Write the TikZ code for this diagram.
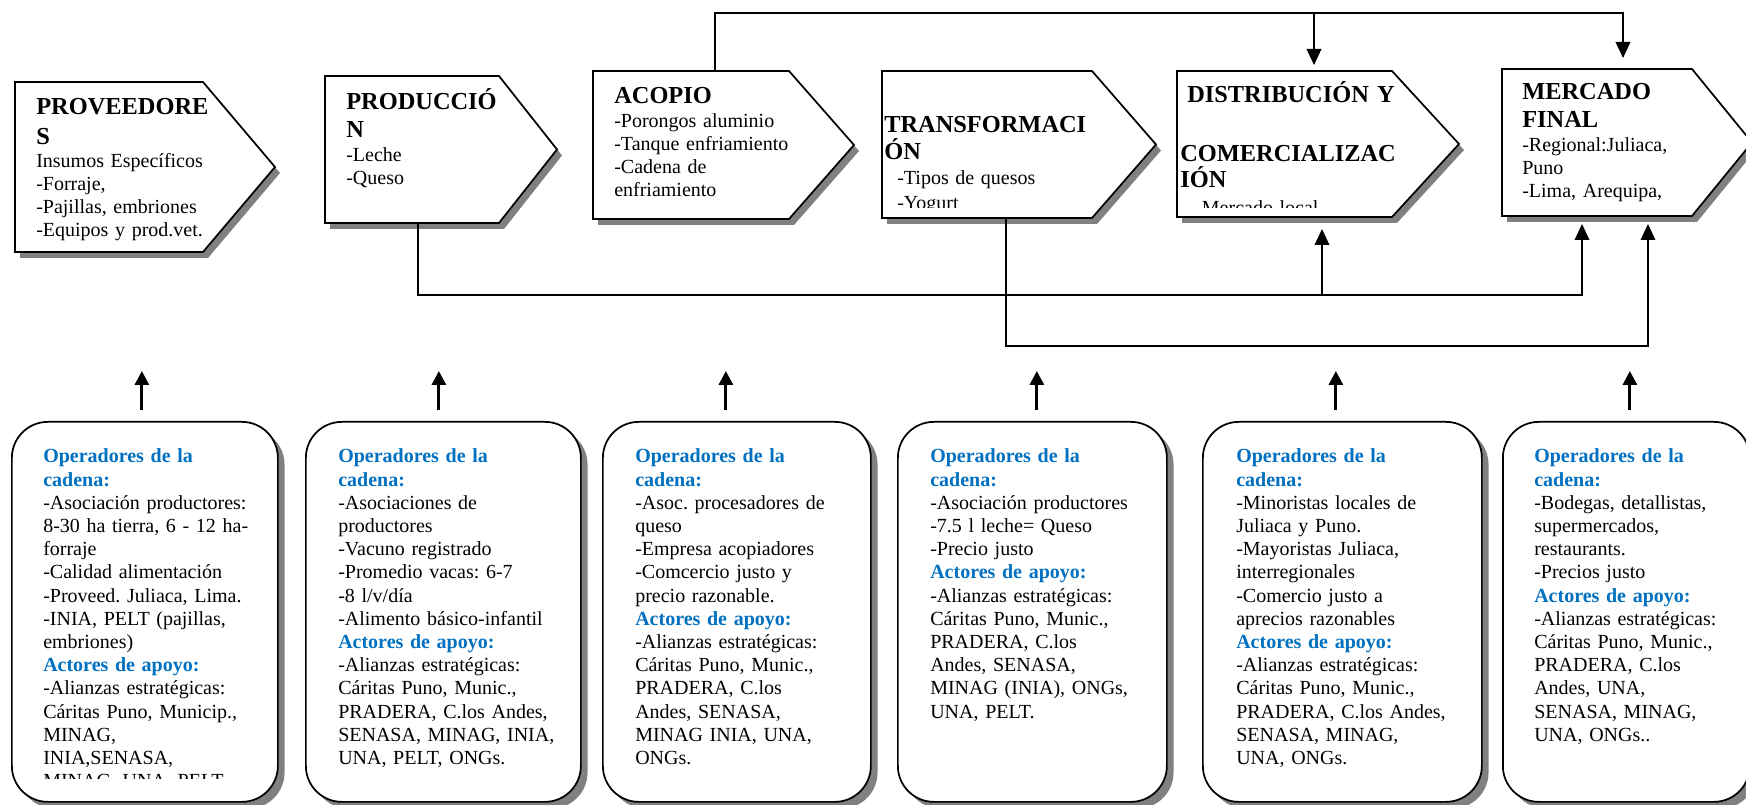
\documentclass[tikz,border=0pt]{standalone}
\usepackage{fontspec}
\setmainfont{Liberation Serif}
\usetikzlibrary{arrows.meta,shadows}

\definecolor{opblue}{RGB}{0,112,192}
\newcommand{\resalte}[1]{\textcolor{opblue}{\bfseries #1}}
\frenchspacing

\tikzstyle{etapa}=[draw, line width=1.3pt, fill=white, drop shadow={shadow xshift=3.75pt, shadow yshift=-4.5pt, fill=gray, opacity=1}]
\tikzstyle{hueco}=[inner sep=0pt, outer sep=0pt]
\tikzstyle{actores}=[draw, line width=1.3pt, fill=white, rounded corners=27pt, inner sep=0pt, anchor=north west, minimum height=285pt, drop shadow={shadow xshift=5pt, shadow yshift=-5pt, fill=gray, opacity=1}]
\tikzstyle{titulo}=[anchor=base west, inner sep=0pt, align=left, text width=240pt, font=\fontsize{18.3pt}{21pt}\selectfont\bfseries]
\tikzstyle{cuerpo}=[anchor=base west, inner sep=0pt, align=left, text width=240pt, font=\fontsize{15pt}{17.25pt}\selectfont]
\tikzstyle{lista}=[cuerpo, font=\fontsize{15pt}{17.4pt}\selectfont]
\tikzstyle{enlace}=[draw, line width=1.1pt]
\tikzstyle{flecha}=[enlace, -{Triangle[width=11pt,length=12pt]}]
\tikzstyle{subida}=[draw, line width=2.2pt, -{Triangle[width=10.5pt,length=10.5pt]}]

\begin{document}
\begin{tikzpicture}[x=0.75pt, y=-0.75pt]
\useasboundingbox (0,0) rectangle (1746,805);

% etapas de la cadena
\foreach \nm/\xl/\yt/\xc/\xp/\yb in {prov/15/82/203/275/252, prod/325/76/499/557/223, acop/593/71/789/854/219, tran/882/71/1092/1156/218, dist/1177/71/1392/1459/217, merc/1502/69/1692/1752/216}{
  \draw[etapa] (\xl,\yt) -- (\xc,\yt) -- (\xp,{(\yt+\yb)/2}) -- (\xc,\yb) -- (\xl,\yb) -- cycle;
  \node[hueco, minimum width={(\xc-\xl)*0.75pt}, minimum height={(\yb-\yt)*0.75pt}] (\nm) at ({(\xl+\xc)/2},{(\yt+\yb)/2}) {};
}

\node[titulo] (prov-t) at (36,115) {PROVEEDORE\\[0.8pt]S};
\node[cuerpo] (prov-c) at (36,168) {Insumos Específicos\\-Forraje,\\-Pajillas, embriones\\-Equipos y prod.vet.};
\node[titulo] (prod-t) at (346,110) {PRODUCCIÓ\\N};
\node[cuerpo] (prod-c) at (346,162) {-Leche\\-Queso};
\node[titulo] (acop-t) at (614,104) {ACOPIO};
\node[cuerpo] (acop-c) at (614,128) {-Porongos aluminio\\-Tanque enfriamiento\\-Cadena de\\enfriamiento};
\begin{scope}
  \clip (882,71) rectangle (1160,208);
  \node[titulo] (tran-t) at (884,133) {TRANSFORMACI\\[-1pt]ÓN};
  \node[cuerpo] (tran-c) at (897,185) {-Tipos de quesos\\[1.5pt]-Yogurt};
\end{scope}
\begin{scope}
  \clip (1177,71) rectangle (1460,208);
  \node[titulo] (dist-t) at (1187,103) {DISTRIBUCIÓN Y};
  \node[titulo] (dist-t2) at (1180,162) {COMERCIALIZAC\\[-1.5pt]IÓN};
  \node[cuerpo] (dist-c) at (1195,215) {-Mercado local};
\end{scope}
\node[titulo] (merc-t) at (1522,100) {MERCADO\\FINAL};
\node[cuerpo] (merc-c) at (1522,152) {-Regional:Juliaca,\\Puno\\-Lima, Arequipa,};

% enlaces entre etapas
\coordinate (arribaA) at (715,13);
\coordinate (arribaD) at (1314,13);
\coordinate (arribaM) at (1623,13);
\coordinate (finArribaD) at (1314,65);
\coordinate (finArribaM) at (1623,58);
\coordinate (medioP) at (418,295);
\coordinate (medioD) at (1322,295);
\coordinate (medioM) at (1582,295);
\coordinate (finMedioD) at (1322,229);
\coordinate (finMedioM) at (1582,224);
\coordinate (bajoT) at (1006,346);
\coordinate (bajoM) at (1648,346);
\coordinate (finBajoM) at (1648,224);
\draw[flecha] (acop.north -| arribaA) -- (arribaA) -- (arribaM) -- (finArribaM);
\draw[flecha] (arribaD) -- (finArribaD);
\draw[flecha] (prod.south -| medioP) -- (medioP) -- (medioM) -- (finMedioM);
\draw[flecha] (medioD) -- (finMedioD);
\draw[flecha] (tran.south -| bajoT) -- (bajoT) -- (bajoM) -- (finBajoM);

% operadores y actores de apoyo
\foreach \nm/\xl/\xr in {b1/11/277, b2/305/580, b3/602/870, b4/897/1166, b5/1202/1481, b6/1502/1749}
  \node[actores, minimum width={(\xr-\xl)*0.75pt}] (\nm) at (\xl,421) {};
\foreach \nm/\dx in {b1/-3, b2/-4.5, b3/-11, b4/4.5, b5/-6.5, b6/3.5}
  \draw[subida] ([shift={(\dx,-11)}]\nm.north) -- ++(0,-39);

\begin{scope}
  \clip (11,421) rectangle (277,778);
  \node[lista] (b1-t) at (43,463) {\resalte{Operadores de la}\\\resalte{cadena:}\\-Asociación productores:\\8-30 ha tierra, 6 - 12 ha-\\forraje\\-Calidad alimentación\\-Proveed. Juliaca, Lima.\\-INIA, PELT (pajillas,\\embriones)\\\resalte{Actores de apoyo:}\\-Alianzas estratégicas:\\Cáritas Puno, Municip.,\\MINAG,\\INIA,SENASA,\\MINAG, UNA, PELT};
\end{scope}
\node[lista] (b2-t) at (338,463) {\resalte{Operadores de la}\\\resalte{cadena:}\\-Asociaciones de\\productores\\-Vacuno registrado\\-Promedio vacas: 6-7\\-8 l/v/día\\-Alimento básico-infantil\\\resalte{Actores de apoyo:}\\-Alianzas estratégicas:\\Cáritas Puno, Munic.,\\PRADERA, C.los Andes,\\SENASA, MINAG, INIA,\\UNA, PELT, ONGs.};
\node[lista] (b3-t) at (635,463) {\resalte{Operadores de la}\\\resalte{cadena:}\\-Asoc. procesadores de\\queso\\-Empresa acopiadores\\-Comcercio justo y\\precio razonable.\\\resalte{Actores de apoyo:}\\-Alianzas estratégicas:\\Cáritas Puno, Munic.,\\PRADERA, C.los\\Andes, SENASA,\\MINAG INIA, UNA,\\ONGs.};
\node[lista] (b4-t) at (930,463) {\resalte{Operadores de la}\\\resalte{cadena:}\\-Asociación productores\\-7.5 l leche= Queso\\-Precio justo\\\resalte{Actores de apoyo:}\\-Alianzas estratégicas:\\Cáritas Puno, Munic.,\\PRADERA, C.los\\Andes, SENASA,\\MINAG (INIA), ONGs,\\UNA, PELT.};
\node[lista] (b5-t) at (1236,463) {\resalte{Operadores de la}\\\resalte{cadena:}\\-Minoristas locales de\\Juliaca y Puno.\\-Mayoristas Juliaca,\\interregionales\\-Comercio justo a\\aprecios razonables\\\resalte{Actores de apoyo:}\\-Alianzas estratégicas:\\Cáritas Puno, Munic.,\\PRADERA, C.los Andes,\\SENASA, MINAG,\\UNA, ONGs.};
\node[lista] (b6-t) at (1534,463) {\resalte{Operadores de la}\\\resalte{cadena:}\\-Bodegas, detallistas,\\supermercados,\\restaurants.\\-Precios justo\\\resalte{Actores de apoyo:}\\-Alianzas estratégicas:\\Cáritas Puno, Munic.,\\PRADERA, C.los\\Andes, UNA,\\SENASA, MINAG,\\UNA, ONGs..};
\end{tikzpicture}
\end{document}
